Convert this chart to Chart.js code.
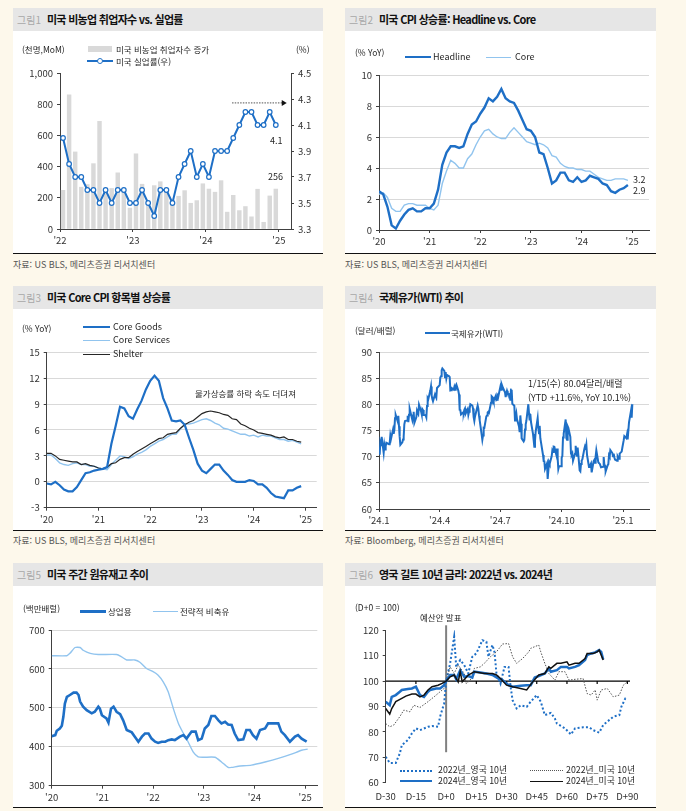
<!DOCTYPE html>
<html lang="ko">
<head>
<meta charset="utf-8">
<script src="https://cdn.jsdelivr.net/npm/chart.js@4.4.1/dist/chart.umd.min.js"></script>
<style>
  body{margin:0;width:686px;height:811px;background:#fdf8eb;position:relative;overflow:hidden;
       font-family:'Noto Sans CJK KR','Noto Sans',sans-serif;color:#222}
  .panel{position:absolute;background:#fff;border-bottom:1.5px solid #111;box-sizing:border-box}
  .ttl{position:absolute;left:0;top:0;right:0;height:23px;background:#e6e6e6;font-size:11px;font-weight:700;
       letter-spacing:-0.7px;line-height:23px;padding-left:4px;white-space:nowrap;color:#111}
  .ttl span{color:#a8a8a8;font-weight:400;font-size:10px;letter-spacing:0;margin-right:6px}
  .t{position:absolute;font-size:8.5px;white-space:nowrap;line-height:10px;transform:translateY(-50%);color:#262626}
  .src{position:absolute;font-size:9px;font-weight:400;color:#555;white-space:nowrap;line-height:10px;transform:translateY(-50%)}
  .sw{position:absolute;height:0}
  canvas{position:absolute}
</style>
</head>
<body>

<div class="panel" style="left:13px;top:8px;width:310px;height:246px"><div class="ttl"><span>그림1</span>미국 비농업 취업자수 vs. 실업률</div></div>
<div class="panel" style="left:345px;top:8px;width:311px;height:246px"><div class="ttl"><span>그림2</span>미국 CPI 상승률: Headline vs. Core</div></div>
<div class="panel" style="left:13px;top:286px;width:310px;height:245px"><div class="ttl"><span>그림3</span>미국 Core CPI 항목별 상승률</div></div>
<div class="panel" style="left:345px;top:286px;width:311px;height:245px"><div class="ttl"><span>그림4</span>국제유가(WTI) 추이</div></div>
<div class="panel" style="left:13px;top:563px;width:310px;height:245px"><div class="ttl"><span>그림5</span>미국 주간 원유재고 추이</div></div>
<div class="panel" style="left:345px;top:563px;width:311px;height:245px"><div class="ttl"><span>그림6</span>영국 길트 10년 금리: 2022년 vs. 2024년</div></div>

<div class="src" style="left:13px;top:265px">자료: US BLS, 메리츠증권 리서치센터</div>
<div class="src" style="left:345px;top:265px">자료: US BLS, 메리츠증권 리서치센터</div>
<div class="src" style="left:13px;top:541px">자료: US BLS, 메리츠증권 리서치센터</div>
<div class="src" style="left:345px;top:541px">자료: Bloomberg, 메리츠증권 리서치센터</div>

<canvas id="c1" width="310" height="222" style="left:13px;top:31px"></canvas>
<canvas id="c2" width="311" height="222" style="left:345px;top:31px"></canvas>
<canvas id="c3" width="310" height="221" style="left:13px;top:309px"></canvas>
<canvas id="c4" width="311" height="221" style="left:345px;top:309px"></canvas>
<canvas id="c5" width="310" height="221" style="left:13px;top:586px"></canvas>
<canvas id="c6" width="311" height="221" style="left:345px;top:586px"></canvas>

<!-- chart 1 texts -->
<div class="t" style="left:22px;top:49px">(천명,MoM)</div>
<div class="t" style="left:296px;top:49px">(%)</div>
<div style="position:absolute;left:88px;top:46px;width:24px;height:6px;background:#d9d9d9"></div>
<div class="t" style="left:116px;top:49px">미국 비농업 취업자수 증가</div>
<div class="sw" style="left:87px;top:60px;width:26px;border-top:2px solid #1e6fc6"></div>
<div style="position:absolute;left:97px;top:58px;width:6px;height:6px;box-sizing:border-box;border:1.3px solid #1e6fc6;border-radius:50%;background:#fff"></div>
<div class="t" style="left:116px;top:61px">미국 실업률(우)</div>
<div class="t" style="left:270px;top:141px;font-size:9px">4.1</div>
<div class="t" style="left:268px;top:177px;font-size:9px">256</div>

<!-- chart 2 texts -->
<div class="t" style="left:355px;top:52px">(% YoY)</div>
<div class="sw" style="left:405px;top:56px;width:26px;border-top:2.5px solid #1e6fc6"></div>
<div class="t" style="left:433px;top:57px;font-size:9px">Headline</div>
<div class="sw" style="left:486px;top:56.5px;width:25px;border-top:1.5px solid #91c4ee"></div>
<div class="t" style="left:515px;top:57px;font-size:9px">Core</div>
<div class="t" style="left:633px;top:180px;font-size:9px">3.2</div>
<div class="t" style="left:633px;top:191px;font-size:9px">2.9</div>

<!-- chart 3 texts -->
<div class="t" style="left:22px;top:328px">(% YoY)</div>
<div class="sw" style="left:83px;top:325.5px;width:27px;border-top:2.5px solid #1e6fc6"></div>
<div class="t" style="left:113px;top:327px;font-size:9px">Core Goods</div>
<div class="sw" style="left:83px;top:339.5px;width:27px;border-top:1.5px solid #91c4ee"></div>
<div class="t" style="left:113px;top:340px;font-size:9px">Core Services</div>
<div class="sw" style="left:83px;top:353.5px;width:27px;border-top:1.5px solid #262626"></div>
<div class="t" style="left:113px;top:354px;font-size:9px">Shelter</div>
<div class="t" style="left:195px;top:393px">물가상승률 하락 속도 더뎌져</div>

<!-- chart 4 texts -->
<div class="t" style="left:355px;top:330px">(달러/배럴)</div>
<div class="sw" style="left:425px;top:332px;width:25px;border-top:2.5px solid #1e6fc6"></div>
<div class="t" style="left:451px;top:333px">국제유가(WTI)</div>
<div class="t" style="left:528px;top:384px;font-size:9px">1/15(수) 80.04달러/배럴</div>
<div class="t" style="left:528px;top:398px;font-size:9px">(YTD +11.6%, YoY 10.1%)</div>

<!-- chart 5 texts -->
<div class="t" style="left:23px;top:608px">(백만배럴)</div>
<div class="sw" style="left:80px;top:609.5px;width:26px;border-top:3px solid #1e6fc6"></div>
<div class="t" style="left:108px;top:611px">상업용</div>
<div class="sw" style="left:153px;top:610.5px;width:25px;border-top:1.5px solid #91c4ee"></div>
<div class="t" style="left:180px;top:611px">전략적 비축유</div>

<!-- chart 6 texts -->
<div class="t" style="left:355px;top:607px">(D+0 = 100)</div>
<div class="t" style="left:420px;top:617px">예산안 발표</div>
<div class="sw" style="left:400px;top:769.5px;width:32px;border-top:2px dotted #1e6fc6"></div>
<div class="t" style="left:438px;top:770px;font-size:8.8px">2022년_영국 10년</div>
<div class="sw" style="left:530px;top:770px;width:33px;border-top:1px dotted #555"></div>
<div class="t" style="left:566px;top:770px;font-size:8.8px">2022년_미국 10년</div>
<div class="sw" style="left:400px;top:780px;width:32px;border-top:2px solid #1e6fc6"></div>
<div class="t" style="left:438px;top:781px;font-size:8.8px">2024년_영국 10년</div>
<div class="sw" style="left:530px;top:780.5px;width:33px;border-top:1.3px solid #111"></div>
<div class="t" style="left:566px;top:781px;font-size:8.8px">2024년_미국 10년</div>

<script>
// ---- data ----
// chart 1: monthly Jan 2022 - Dec 2024
const nfp = [248, 860, 494, 268, 285, 419, 690, 255, 260, 360, 250, 134,
             482, 287, 146, 278, 303, 240, 184, 210, 246, 165, 182, 290,
             256, 236, 310, 108, 216, 118, 144, 78, 255, 43, 212, 256];
const unemp = [4.0, 3.8, 3.7, 3.7, 3.6, 3.6, 3.5, 3.6, 3.5, 3.6, 3.6, 3.5,
               3.5, 3.6, 3.5, 3.4, 3.6, 3.6, 3.5, 3.7, 3.8, 3.9, 3.7, 3.8,
               3.7, 3.9, 3.9, 3.9, 4.0, 4.1, 4.2, 4.2, 4.1, 4.1, 4.2, 4.1];
const yearTicks1 = ["'22", "'23", "'24", "'25"];

// chart 2: monthly Jan 2020 - Dec 2024
const cpiHeadline = [2.5, 2.3, 1.5, 0.3, 0.1, 0.6, 1.0, 1.3, 1.4, 1.2, 1.2, 1.4,
                     1.4, 1.7, 2.6, 4.2, 5.0, 5.4, 5.4, 5.3, 5.4, 6.2, 6.8, 7.0,
                     7.5, 7.9, 8.5, 8.3, 8.6, 9.1, 8.5, 8.3, 8.2, 7.7, 7.1, 6.5,
                     6.4, 6.0, 5.0, 4.9, 4.0, 3.0, 3.2, 3.7, 3.7, 3.2, 3.1, 3.4,
                     3.1, 3.2, 3.5, 3.4, 3.3, 3.0, 2.9, 2.5, 2.4, 2.6, 2.7, 2.9];
const cpiCore = [2.3, 2.4, 2.1, 1.4, 1.2, 1.2, 1.6, 1.7, 1.7, 1.6, 1.6, 1.6,
                 1.4, 1.3, 1.6, 3.0, 3.8, 4.5, 4.3, 4.0, 4.0, 4.6, 4.9, 5.5,
                 6.0, 6.4, 6.5, 6.2, 6.0, 5.9, 5.9, 6.3, 6.6, 6.3, 6.0, 5.7,
                 5.6, 5.5, 5.6, 5.5, 5.3, 4.8, 4.7, 4.3, 4.1, 4.0, 4.0, 3.9,
                 3.9, 3.8, 3.8, 3.6, 3.4, 3.3, 3.2, 3.2, 3.3, 3.3, 3.3, 3.2];
const yearTicks5 = ["'20", "'21", "'22", "'23", "'24", "'25"];

// chart 3: monthly Jan 2020 - Dec 2024
const coreGoods = [-0.2, -0.3, 0.0, -0.4, -0.9, -1.1, -1.1, -0.6, 0.2, 1.0, 1.1, 1.3,
                   1.4, 1.5, 1.7, 4.4, 6.5, 8.7, 8.5, 7.6, 7.3, 8.4, 9.4, 10.7,
                   11.7, 12.3, 11.7, 9.7, 8.5, 7.1, 7.0, 7.1, 6.6, 5.1, 3.7, 2.1,
                   1.3, 1.0, 1.5, 2.0, 2.0, 1.3, 0.8, 0.2, 0.0, 0.0, 0.0, 0.2,
                   0.1, -0.3, -0.3, -0.7, -1.3, -1.7, -1.8, -1.9, -1.0, -1.0, -0.7, -0.5];
const coreServices = [3.1, 3.1, 2.7, 2.2, 2.0, 1.9, 2.1, 2.2, 2.0, 2.0, 1.8, 1.8,
                      1.6, 1.5, 1.4, 2.0, 2.5, 3.0, 2.9, 2.7, 2.9, 3.2, 3.4, 3.7,
                      4.1, 4.4, 4.7, 4.9, 5.2, 5.5, 5.5, 6.1, 6.7, 6.7, 6.8, 7.0,
                      7.2, 7.3, 7.1, 6.8, 6.6, 6.2, 6.1, 5.9, 5.7, 5.5, 5.5, 5.3,
                      5.4, 5.2, 5.4, 5.3, 5.3, 5.1, 4.9, 4.9, 4.7, 4.8, 4.6, 4.4];
const shelter = [3.3, 3.3, 3.0, 2.6, 2.5, 2.4, 2.3, 2.3, 2.0, 2.1, 1.9, 1.8,
                 1.6, 1.5, 1.7, 2.1, 2.2, 2.6, 2.8, 2.8, 3.2, 3.5, 3.8, 4.1,
                 4.4, 4.7, 5.0, 5.1, 5.5, 5.6, 5.7, 6.2, 6.6, 6.9, 7.1, 7.5,
                 7.9, 8.1, 8.2, 8.1, 8.0, 7.8, 7.7, 7.3, 7.2, 6.7, 6.5, 6.2,
                 6.0, 5.7, 5.6, 5.5, 5.4, 5.2, 5.1, 5.2, 4.9, 4.9, 4.7, 4.6];

// chart 4: WTI daily close
const wtiDates = [
  '2024-01-02','2024-01-03','2024-01-04','2024-01-05','2024-01-08','2024-01-09','2024-01-10','2024-01-11','2024-01-12','2024-01-16','2024-01-17','2024-01-18','2024-01-19','2024-01-22','2024-01-23','2024-01-24','2024-01-25','2024-01-26','2024-01-29','2024-01-30','2024-01-31',
  '2024-02-01','2024-02-02','2024-02-05','2024-02-06','2024-02-07','2024-02-08','2024-02-09','2024-02-12','2024-02-13','2024-02-14','2024-02-15','2024-02-16','2024-02-20','2024-02-21','2024-02-22','2024-02-23','2024-02-26','2024-02-27','2024-02-28','2024-02-29',
  '2024-03-01','2024-03-04','2024-03-05','2024-03-06','2024-03-07','2024-03-08','2024-03-11','2024-03-12','2024-03-13','2024-03-14','2024-03-15','2024-03-18','2024-03-19','2024-03-20','2024-03-21','2024-03-22','2024-03-25','2024-03-26','2024-03-27','2024-03-28',
  '2024-04-01','2024-04-02','2024-04-03','2024-04-04','2024-04-05','2024-04-08','2024-04-09','2024-04-10','2024-04-11','2024-04-12','2024-04-15','2024-04-16','2024-04-17','2024-04-18','2024-04-19','2024-04-22','2024-04-23','2024-04-24','2024-04-25','2024-04-26','2024-04-29','2024-04-30',
  '2024-05-01','2024-05-02','2024-05-03','2024-05-06','2024-05-07','2024-05-08','2024-05-09','2024-05-10','2024-05-13','2024-05-14','2024-05-15','2024-05-16','2024-05-17','2024-05-20','2024-05-21','2024-05-22','2024-05-23','2024-05-24','2024-05-28','2024-05-29','2024-05-30','2024-05-31',
  '2024-06-03','2024-06-04','2024-06-05','2024-06-06','2024-06-07','2024-06-10','2024-06-11','2024-06-12','2024-06-13','2024-06-14','2024-06-17','2024-06-18','2024-06-20','2024-06-21','2024-06-24','2024-06-25','2024-06-26','2024-06-27','2024-06-28',
  '2024-07-01','2024-07-02','2024-07-03','2024-07-05','2024-07-08','2024-07-09','2024-07-10','2024-07-11','2024-07-12','2024-07-15','2024-07-16','2024-07-17','2024-07-18','2024-07-19','2024-07-22','2024-07-23','2024-07-24','2024-07-25','2024-07-26','2024-07-29','2024-07-30','2024-07-31',
  '2024-08-01','2024-08-02','2024-08-05','2024-08-06','2024-08-07','2024-08-08','2024-08-09','2024-08-12','2024-08-13','2024-08-14','2024-08-15','2024-08-16','2024-08-19','2024-08-20','2024-08-21','2024-08-22','2024-08-23','2024-08-26','2024-08-27','2024-08-28','2024-08-29','2024-08-30',
  '2024-09-03','2024-09-04','2024-09-05','2024-09-06','2024-09-09','2024-09-10','2024-09-11','2024-09-12','2024-09-13','2024-09-16','2024-09-17','2024-09-18','2024-09-19','2024-09-20','2024-09-23','2024-09-24','2024-09-25','2024-09-26','2024-09-27','2024-09-30',
  '2024-10-01','2024-10-02','2024-10-03','2024-10-04','2024-10-07','2024-10-08','2024-10-09','2024-10-10','2024-10-11','2024-10-14','2024-10-15','2024-10-16','2024-10-17','2024-10-18','2024-10-21','2024-10-22','2024-10-23','2024-10-24','2024-10-25','2024-10-28','2024-10-29','2024-10-30','2024-10-31',
  '2024-11-01','2024-11-04','2024-11-05','2024-11-06','2024-11-07','2024-11-08','2024-11-11','2024-11-12','2024-11-13','2024-11-14','2024-11-15','2024-11-18','2024-11-19','2024-11-20','2024-11-21','2024-11-22','2024-11-25','2024-11-26','2024-11-27','2024-11-29',
  '2024-12-02','2024-12-03','2024-12-04','2024-12-05','2024-12-06','2024-12-09','2024-12-10','2024-12-11','2024-12-12','2024-12-13','2024-12-16','2024-12-17','2024-12-18','2024-12-19','2024-12-20','2024-12-23','2024-12-24','2024-12-26','2024-12-27','2024-12-30','2024-12-31',
  '2025-01-02','2025-01-03','2025-01-06','2025-01-07','2025-01-08','2025-01-10','2025-01-13','2025-01-14','2025-01-15'
];
const wtiClose = [
  70.38,72.70,72.19,73.81,70.77,72.24,71.37,72.02,72.68,72.40,72.56,74.08,73.41,75.19,74.37,75.09,77.36,78.01,76.78,77.82,75.85,
  73.82,72.28,72.78,73.31,73.86,76.22,76.84,76.92,77.87,76.64,78.03,79.19,77.04,77.91,78.61,76.49,77.58,78.87,78.54,78.26,
  79.97,78.74,78.15,79.13,78.93,78.01,77.93,77.56,79.72,81.26,81.04,82.72,83.47,81.68,81.07,80.63,81.95,81.62,81.35,83.17,
  83.71,85.15,85.43,86.59,86.91,86.43,85.23,86.21,85.02,85.66,85.41,85.36,82.69,82.73,83.14,82.85,83.36,82.81,83.57,83.85,82.63,81.93,
  79.00,78.95,78.11,78.48,78.38,78.99,79.26,78.26,79.12,78.02,78.63,79.23,80.06,79.80,79.26,77.57,76.87,77.72,79.83,79.23,77.91,76.99,
  74.22,73.25,74.07,75.55,75.53,77.74,77.90,78.50,78.62,78.45,80.33,81.57,81.29,80.73,81.63,80.83,80.90,81.74,81.54,
  83.38,82.81,83.88,83.16,82.33,81.41,82.10,82.62,82.21,81.91,80.76,82.85,82.82,80.13,79.78,76.96,77.59,78.28,77.16,75.81,74.73,77.91,
  76.31,73.52,72.94,73.20,75.23,76.19,76.84,80.06,78.35,76.98,78.16,76.65,74.37,73.17,71.93,73.01,74.83,77.42,75.53,74.52,75.91,73.55,
  70.34,69.20,69.15,67.67,68.71,65.75,67.31,68.97,68.65,70.09,71.19,70.91,71.95,71.92,70.37,71.56,69.69,67.67,68.18,68.17,
  69.83,70.10,73.71,74.38,77.14,73.57,73.24,75.85,75.56,73.83,70.58,70.39,70.67,69.22,70.56,72.09,70.77,70.19,71.78,67.38,67.21,68.61,69.26,
  69.49,71.47,71.99,71.69,72.36,70.38,68.04,68.12,68.43,68.70,67.02,69.16,69.39,68.87,70.10,71.24,68.94,68.77,68.72,68.00,
  68.10,69.94,68.54,68.30,67.20,68.37,68.59,70.29,70.02,71.29,70.71,70.08,70.58,69.91,69.46,69.24,70.10,69.62,70.60,70.99,71.72,
  73.13,73.96,73.56,74.25,73.32,76.57,78.82,77.50,80.04
];
const wtiTickDays = [0, 91, 182, 274, 366];
const wtiTickLabels = ["'24.1", "'24.4", "'24.7", "'24.10", "'25.1"];

// chart 5: crude inventories (x = years since Jan 2020)
const comT = [0,0.07,0.1,0.16,0.2,0.23,0.26,0.3,0.36,0.43,0.49,0.53,0.56,0.62,0.69,0.79,0.85,0.92,0.95,0.99,
              1.08,1.12,1.17,1.22,1.28,1.35,1.41,1.48,1.58,1.64,1.71,1.78,1.84,1.91,1.97,
              2.04,2.1,2.17,2.24,2.3,2.37,2.43,2.53,2.6,2.66,2.76,2.84,2.89,2.96,
              3.02,3.09,3.15,3.22,3.29,3.35,3.42,3.48,3.55,3.61,3.68,3.78,3.84,3.91,3.97,
              4.04,4.11,4.21,4.27,4.37,4.47,4.53,4.6,4.7,4.8,4.86,4.93,5.03];
const comV = [427,430,441,447,454,477,511,528,533,539,539,533,516,503,494,486,490,503,498,481,
              473,462,498,503,490,484,468,443,437,426,413,426,434,434,421,
              413,410,413,413,417,419,417,426,430,421,439,439,417,421,
              447,456,479,479,468,460,464,457,456,434,417,419,443,443,430,
              421,443,447,460,460,460,439,430,413,426,430,421,413];
const sprT = [0,0.3,0.36,0.46,0.56,0.62,0.76,0.92,1.28,1.38,1.48,1.64,1.74,1.87,2.0,2.1,2.2,2.3,
              2.4,2.5,2.6,2.69,2.79,2.89,2.99,3.22,3.35,3.48,3.55,3.68,3.94,4.21,4.47,4.73,4.93,5.05];
const sprV = [634,634,640,655,655,648,640,637,637,631,623,623,617,601,593,584,567,541,
              498,460,434,413,387,374,373,373,361,347,347,350,353,361,370,381,391,394];

// chart 6: gilt / UST 10y indexed to D+0 = 100
const uk22Day = [-30,-28,-25,-23,-22,-19,-17,-15,-13,-9,-7,-4,-3,-1,0,2,4,5,7,9,11,13,15,18,20,21,23,24,25,27,29,31,32,33,35,37,40,42,45,47,49,52,54,55,59,62,64,68,71,73,76,78,80,83,86,87,89,90];
const uk22Val = [70.2,67.8,67.8,71.5,74.8,76.8,79.4,81.4,80.7,82,82.3,82,86,91.2,100,107,117.5,105.6,108.3,106.3,103,109.6,110.9,116.1,115.5,109.6,114.2,111.5,103,99,105.6,105.6,97.8,92.5,89.2,90.5,89.9,91.9,94.5,91.9,86.6,87.5,85.3,83.3,81.4,79,81.4,81.8,81.8,80.7,79.7,82.7,84,86,86.6,89.9,93.2,93.4];
const us22Day = [-30,-28,-26,-23,-21,-18,-16,-13,-9,-6,-3,-1,0,2,4,6,9,10,12,14,17,19,22,25,28,31,33,35,38,41,42,46,47,49,51,54,56,59,61,64,68,70,72,74,75,77,80,83,86,88,90];
const us22Val = [83.3,82,82.7,86,88.6,87.9,90.5,89.6,91.9,93.8,95.8,97.1,100,105.6,103,106.3,103,99,100.4,105,105.6,107,109.6,111.5,114.6,114.8,109.6,107,108.9,111.5,112.9,114.2,111.5,107,103,100.4,103.7,103.7,100.4,100.7,101,95.1,94.5,96.5,92.5,96.5,97.1,93.8,94.5,98.4,99.7];
const uk24Day = [-30,-28,-27,-25,-23,-22,-19,-17,-15,-13,-11,-9,-8,-5,-3,-1,0,2,4,5,7,9,11,13,14,17,20,23,26,28,31,33,37,40,42,44,46,49,51,52,55,57,60,61,64,66,69,70,72,74,76,77,78];
const uk24Val = [91.9,90.5,93.8,94.5,95.8,96.5,96.9,97.1,97.8,94.5,93.8,95.8,96.5,97.1,97.1,98.4,100,102.4,102.4,100.7,104.3,101.7,102,101.4,103.7,103.4,103,102.4,101,100.4,98.4,97.8,98.2,98.4,98.4,101.4,102,103,105,103.7,104.3,105.6,105.6,105,105.6,106.3,108.3,110.2,110.9,111.3,112.2,111.5,108.5];
const us24Day = [-30,-28,-27,-25,-22,-20,-17,-15,-13,-11,-9,-7,-4,-2,0,2,4,6,7,8,11,14,19,23,25,27,30,33,37,40,43,46,49,51,52,55,57,60,61,64,66,69,70,73,75,76,78];
const us24Val = [89.2,87,89.2,91.9,93.2,94.1,94.9,94.9,93.8,94.5,96.5,97.8,98.4,99.1,100,101.7,102.4,99.7,103.7,99.7,102.4,103.7,103,103,102.4,101,98.4,97.8,97.1,96.5,99.7,102.4,103,105.6,105,107,107,107.6,106.3,107,107,108.9,110.9,110.9,111.5,112.2,108.3];
const dayTicks = [-30, -15, 0, 15, 30, 45, 60, 75, 90];

// ---- style ----
const BLUE = '#1e6fc6';
const LIGHT = '#91c4ee';
const AXIS = '#404040';

Chart.defaults.font.family = "'Noto Sans CJK KR','Noto Sans',sans-serif";
Chart.defaults.font.size = 9.5;
Chart.defaults.color = '#333';
Chart.defaults.animation = false;
Chart.defaults.plugins.legend.display = false;
Chart.defaults.plugins.tooltip.enabled = false;
Chart.defaults.elements.point.radius = 0;
Chart.defaults.elements.line.tension = 0;

function zeroPad(s) { s.paddingLeft = 0; s.paddingRight = 0; s.paddingTop = 0; s.paddingBottom = 0; }

function yAxis(w, min, max, step, fmt, grid, pos) {
  return {
    type: 'linear', position: pos || 'left', min: min, max: max,
    afterFit: s => { s.width = w; zeroPad(s); },
    afterBuildTicks: s => {
      const t = [];
      for (let v = min; v <= max + 1e-9; v += step) t.push({ value: +v.toFixed(4) });
      s.ticks = t;
    },
    ticks: { padding: 4, callback: fmt },
    grid: { drawOnChartArea: grid, color: '#d9d9d9', tickColor: AXIS, tickLength: 3 },
    border: { color: AXIS, width: 1 }
  };
}

function xAxis(h, min, max, vals, fmt, showTicks) {
  return {
    type: 'linear', min: min, max: max, offset: false,
    afterFit: s => { s.height = h; zeroPad(s); },
    afterBuildTicks: s => { s.ticks = vals.map(v => ({ value: v })); },
    ticks: { padding: showTicks === false ? 5 : 3, maxRotation: 0, autoSkip: false, callback: fmt },
    grid: { display: showTicks !== false, drawOnChartArea: false, offset: false, tickColor: AXIS, tickLength: 3 },
    border: { display: showTicks !== false, color: AXIS, width: 1 }
  };
}

function pts(xs, ys) { return ys.map((v, i) => ({ x: xs[i], y: v })); }
const monthIdx = n => Array.from({ length: n }, (_, i) => i);

// ---- chart 1 ----
const arrowPlugin = {
  id: 'arrow1',
  afterDatasetsDraw(ch) {
    const ctx = ch.ctx, x = ch.scales.x, y = ch.scales.y2;
    const x0 = x.getPixelForValue(28.3), x1 = x.getPixelForValue(37.3), yy = y.getPixelForValue(4.27);
    ctx.save();
    ctx.strokeStyle = '#777'; ctx.lineWidth = 1.2; ctx.setLineDash([1.5, 1.2]);
    ctx.beginPath(); ctx.moveTo(x0, yy); ctx.lineTo(x1 - 4, yy); ctx.stroke();
    ctx.setLineDash([]); ctx.fillStyle = '#111';
    ctx.beginPath(); ctx.moveTo(x1, yy); ctx.lineTo(x1 - 5, yy - 3); ctx.lineTo(x1 - 5, yy + 3); ctx.closePath(); ctx.fill();
    ctx.restore();
  }
};

new Chart(document.getElementById('c1'), {
  type: 'bar',
  data: {
    datasets: [
      { type: 'line', data: pts(monthIdx(36).map(i => i + 0.5), unemp), yAxisID: 'y2',
        borderColor: BLUE, borderWidth: 2, pointRadius: 2.3, pointBackgroundColor: '#fff',
        pointBorderColor: BLUE, pointBorderWidth: 1.2, order: 0 },
      { type: 'bar', data: pts(monthIdx(36).map(i => i + 0.5), nfp), yAxisID: 'y',
        backgroundColor: '#d9d9d9', barThickness: 3.8, order: 1 }
    ]
  },
  options: {
    responsive: false,
    layout: { padding: { top: 42, left: 0, right: 0, bottom: 0 } },
    scales: {
      x: xAxis(24, 0, 38, [0, 12, 24, 36], v => yearTicks1[v / 12]),
      y: yAxis(47, 0, 1000, 200, v => v.toLocaleString('en-US'), false),
      y2: yAxis(32, 3.3, 4.5, 0.2, v => v.toFixed(1), false, 'right')
    }
  },
  plugins: [arrowPlugin]
});

// ---- chart 2 ----
new Chart(document.getElementById('c2'), {
  type: 'line',
  data: {
    datasets: [
      { data: pts(monthIdx(60), cpiHeadline), borderColor: BLUE, borderWidth: 2.4, order: 0 },
      { data: pts(monthIdx(60), cpiCore), borderColor: LIGHT, borderWidth: 1.4, order: 1 }
    ]
  },
  options: {
    responsive: false,
    layout: { padding: { top: 44, left: 0, right: 7, bottom: 0 } },
    scales: {
      x: xAxis(23, 0, 64, [0, 12, 24, 36, 48, 60], v => yearTicks5[v / 12]),
      y: yAxis(34, 0, 10, 2, v => v, true)
    }
  }
});

// ---- chart 3 ----
new Chart(document.getElementById('c3'), {
  type: 'line',
  data: {
    datasets: [
      { data: pts(monthIdx(60), coreGoods), borderColor: BLUE, borderWidth: 2.2, order: 0 },
      { data: pts(monthIdx(60), shelter), borderColor: '#262626', borderWidth: 1.2, order: 1 },
      { data: pts(monthIdx(60), coreServices), borderColor: LIGHT, borderWidth: 1.4, order: 2 }
    ]
  },
  options: {
    responsive: false,
    layout: { padding: { top: 43.3, left: 0, right: 6.3, bottom: 0 } },
    scales: {
      x: xAxis(22.3, 0, 62.6, [0, 12, 24, 36, 48, 60], v => yearTicks5[v / 12]),
      y: yAxis(33.7, -3, 15, 3, v => v, true)
    }
  }
});

// ---- chart 4 ----
const day0 = Date.UTC(2024, 0, 1);
const wtiDay = wtiDates.map(d => {
  const [yy, mm, dd] = d.split('-').map(Number);
  return (Date.UTC(yy, mm - 1, dd) - day0) / 86400000;
});
new Chart(document.getElementById('c4'), {
  type: 'line',
  data: { datasets: [{ data: pts(wtiDay, wtiClose), borderColor: BLUE, borderWidth: 2 }] },
  options: {
    responsive: false,
    layout: { padding: { top: 43.3, left: 0, right: 7, bottom: 0 } },
    scales: {
      x: xAxis(21, 0, 405, wtiTickDays, v => wtiTickLabels[wtiTickDays.indexOf(v)]),
      y: yAxis(34, 60, 90, 5, v => v, true)
    }
  }
});

// ---- chart 5 ----
new Chart(document.getElementById('c5'), {
  type: 'line',
  data: {
    datasets: [
      { data: pts(comT, comV), borderColor: BLUE, borderWidth: 2.6, order: 0 },
      { data: pts(sprT, sprV), borderColor: LIGHT, borderWidth: 1.4, tension: 0.2, order: 1 }
    ]
  },
  options: {
    responsive: false,
    layout: { padding: { top: 44, left: 0, right: 5.7, bottom: 0 } },
    scales: {
      x: xAxis(21.3, 0, 5.24, [0, 1, 2, 3, 4, 5], v => yearTicks5[v]),
      y: yAxis(38.7, 300, 700, 100, v => v, true)
    }
  }
});

// ---- chart 6 ----
const budgetPlugin = {
  id: 'budget',
  beforeDatasetsDraw(ch) {
    const ctx = ch.ctx, a = ch.chartArea, x = ch.scales.x, y = ch.scales.y;
    const y100 = y.getPixelForValue(100);
    ctx.save();
    ctx.strokeStyle = '#000'; ctx.lineWidth = 1.2;
    ctx.beginPath();
    ctx.moveTo(a.left, y100); ctx.lineTo(a.right, y100);
    dayTicks.filter(d => d !== -30 && d !== 0).forEach(d => {
      const px = x.getPixelForValue(d);
      ctx.moveTo(px, y100); ctx.lineTo(px, y100 + 3);
    });
    ctx.stroke();
    const x0 = x.getPixelForValue(0);
    ctx.strokeStyle = '#808080'; ctx.lineWidth = 2;
    ctx.beginPath(); ctx.moveTo(x0, a.top - 5); ctx.lineTo(x0, y.getPixelForValue(72)); ctx.stroke();
    ctx.restore();
  }
};
new Chart(document.getElementById('c6'), {
  type: 'line',
  data: {
    datasets: [
      { data: pts(us24Day, us24Val), borderColor: '#111', borderWidth: 1.5, order: 0 },
      { data: pts(uk24Day, uk24Val), borderColor: BLUE, borderWidth: 2.5, order: 1 },
      { data: pts(us22Day, us22Val), borderColor: '#555', borderWidth: 1, borderDash: [1.5, 1.5], order: 2 },
      { data: pts(uk22Day, uk22Val), borderColor: BLUE, borderWidth: 2, borderDash: [2, 2.2], order: 3 }
    ]
  },
  options: {
    responsive: false,
    layout: { padding: { top: 44.3, left: 0, right: 26, bottom: 0 } },
    scales: {
      x: xAxis(24.3, -30, 91.3, dayTicks, v => (v < 0 ? 'D' + v : 'D+' + v), false),
      y: yAxis(40.7, 60, 120, 10, v => v, false)
    }
  },
  plugins: [budgetPlugin]
});
</script>
</body>
</html>
